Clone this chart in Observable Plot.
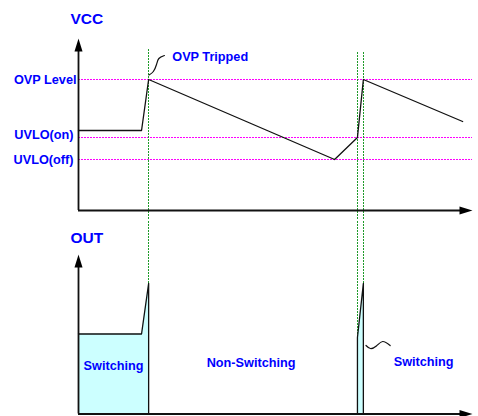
<!DOCTYPE html>
<html>
<head>
<meta charset="utf-8">
<script src="https://cdn.jsdelivr.net/npm/d3@7"></script>
<script src="https://cdn.jsdelivr.net/npm/@observablehq/plot@0.6"></script>
<style>
  html, body { margin: 0; padding: 0; background: #fff; }
  #chart { width: 478px; height: 416px; overflow: hidden; }
</style>
</head>
<body>
<div id="chart"></div>
<script>
// ---- data (time in arbitrary units 0..100, levels in arbitrary units) ----
const vccTime  = [0, 16, 17.8, 65, 70.8, 72.3, 97.5];
const vccLevel = [8.0, 8.0, 13.1, 5.1, 7.3, 13.1, 8.9];

const thresholdNames  = ["OVP Level", "UVLO(on)", "UVLO(off)"];
const thresholdValues = [13.1, 7.3, 5.1];

const eventTimes = [17.8, 70.8, 72.3];
const eventTops  = [16.1, 15.85, 15.85];

const out1Time  = [0, 16, 17.8];
const out1Level = [8.0, 8.0, 13.05];
const out2Time  = [70.8, 72.3];
const out2Level = [7.65, 13.05];

const regionNames   = ["Switching", "Non-Switching", "Switching"];
const regionTimes   = [8.9, 43.8, 87.6];
const regionLevels  = [4.85, 5.1, 5.2];

// annotation squiggles (leader lines)
const ovpLeaderTime  = [17.9, 19.0, 19.8, 20.4, 21.8];
const ovpLeaderLevel = [13.55, 13.9, 14.6, 15.2, 15.5];
const swLeaderTime   = [72.97, 74.1, 75.6, 77.2, 79.1];
const swLeaderLevel  = [6.85, 6.55, 6.8, 7.25, 6.85];

const vccAxisTop = 17.2;
const outAxisTop = 15.95;
const timeEnd = 100;

// ---- helpers ----
const font = "'Liberation Sans', Arial, sans-serif";
const blue = "#0000ff";
const arrow = {
  draw(ctx) { ctx.moveTo(0, 0); ctx.lineTo(-4, 13); ctx.lineTo(4, 13); ctx.closePath(); }
};
const zip = (xs, ys) => xs.map((x, i) => ({t: x, v: ys[i]}));

const vcc = zip(vccTime, vccLevel);
const thresholds = thresholdNames.map((n, i) => ({name: n, v: thresholdValues[i]}));
const events = eventTimes.map((t, i) => ({t, top: eventTops[i]}));

function axes(axisTop) {
  return [
    Plot.ruleY([0], {x1: 0, x2: timeEnd - 2, stroke: "#111", strokeWidth: 1.8}),
    Plot.ruleX([0], {y1: 0, y2: axisTop - 1, stroke: "#111", strokeWidth: 1.8}),
    Plot.dot([{t: 0, v: axisTop}], {x: "t", y: "v", symbol: arrow, fill: "#000", stroke: "none"}),
    Plot.dot([{t: timeEnd, v: 0}], {x: "t", y: "v", symbol: arrow, rotate: 90, fill: "#000", stroke: "none"})
  ];
}

// ---- top panel: VCC ----
const vccPlot = Plot.plot({
  width: 478, height: 220,
  marginLeft: 78, marginRight: 6, marginTop: 38, marginBottom: 10,
  style: {fontFamily: font, background: "white"},
  x: {domain: [0, timeEnd], axis: null},
  y: {domain: [0, vccAxisTop], axis: null},
  marks: [
    Plot.ruleY(thresholds, {y: "v", x1: 0, x2: timeEnd, stroke: "#ff00ff", strokeWidth: 1, strokeDasharray: "2,1", shapeRendering: "crispEdges"}),
    Plot.ruleX(events, {x: "t", y1: "top", y2: -1.1, stroke: "#1f9a2a", strokeWidth: 1, strokeDasharray: "2,1", shapeRendering: "crispEdges"}),
    ...axes(vccAxisTop),
    Plot.line(vcc, {x: "t", y: "v", stroke: "#111", strokeWidth: 1.3}),
    Plot.line(zip(ovpLeaderTime, ovpLeaderLevel), {x: "t", y: "v", curve: "natural", stroke: "#111", strokeWidth: 1.2}),
    Plot.text(["VCC"], {x: () => 2.1, y: () => 19.1, text: d => d, fill: blue, fontWeight: "bold", fontSize: 15.5}),
    Plot.text(["OVP Tripped"], {x: () => 23.8, y: () => 15.35, text: d => d, textAnchor: "start", fill: blue, fontWeight: "bold", fontSize: 12.7}),
    Plot.text(thresholds.slice(0, 1), {x: () => 0, y: "v", text: "name", textAnchor: "end", dx: -2, fill: blue, fontWeight: "bold", fontSize: 12.7}),
    Plot.text(thresholds.slice(1, 2), {x: () => 0, y: "v", text: "name", textAnchor: "end", dx: -5, dy: -3, fill: blue, fontWeight: "bold", fontSize: 12.7}),
    Plot.text(thresholds.slice(2), {x: () => 0, y: "v", text: "name", textAnchor: "end", dx: -5, fill: blue, fontWeight: "bold", fontSize: 12.7})
  ]
});

// ---- bottom panel: OUT ----
const seg1 = zip(out1Time, out1Level);
const seg2 = zip(out2Time, out2Level);
const outline1 = [...seg1, {t: out1Time[out1Time.length - 1], v: 0}];
const outline2 = [{t: out2Time[0], v: 0}, ...seg2, {t: out2Time[out2Time.length - 1], v: 0}];
const regions = regionNames.map((n, i) => ({name: n, t: regionTimes[i], v: regionLevels[i]}));

const outPlot = Plot.plot({
  width: 478, height: 196,
  marginLeft: 78, marginRight: 6, marginTop: 34, marginBottom: 2.5,
  style: {fontFamily: font, background: "white"},
  x: {domain: [0, timeEnd], axis: null},
  y: {domain: [0, outAxisTop], axis: null},
  marks: [
    Plot.areaY(seg1, {x: "t", y: "v", fill: "#ccffff"}),
    Plot.areaY(seg2, {x: "t", y: "v", fill: "#ccffff"}),
    Plot.ruleX(events, {x: "t", y1: outAxisTop + 3.6, y2: 0, stroke: "#1f9a2a", strokeWidth: 1, strokeDasharray: "2,1", shapeRendering: "crispEdges"}),
    Plot.line(outline1, {x: "t", y: "v", stroke: "#111", strokeWidth: 1.3}),
    Plot.line(outline2, {x: "t", y: "v", stroke: "#111", strokeWidth: 1.3}),
    ...axes(outAxisTop),
    Plot.line(zip(swLeaderTime, swLeaderLevel), {x: "t", y: "v", curve: "natural", stroke: "#111", strokeWidth: 1.2}),
    Plot.text(["OUT"], {x: () => 2.1, y: () => 17.55, text: d => d, fill: blue, fontWeight: "bold", fontSize: 15.5}),
    Plot.text(regions, {x: "t", y: "v", text: "name", fill: blue, fontWeight: "bold", fontSize: 12.7})
  ]
});

const chart = document.getElementById("chart");
chart.appendChild(vccPlot);
chart.appendChild(outPlot);
</script>
</body>
</html>
